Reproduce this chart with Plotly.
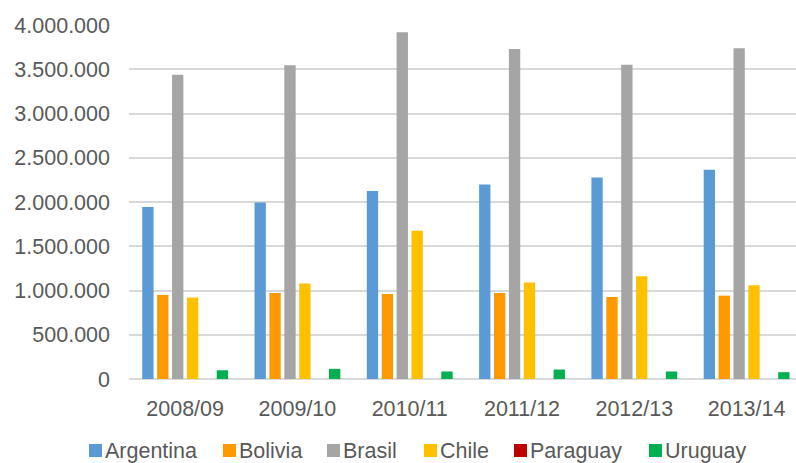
import plotly.graph_objects as go

categories = ["2008/09", "2009/10", "2010/11", "2011/12", "2012/13", "2013/14"]
argentina = [1943000, 1995000, 2123000, 2198000, 2277000, 2364000]
bolivia = [950000, 972000, 961000, 972000, 927000, 942000]
brasil = [3439000, 3545000, 3917000, 3729000, 3552000, 3737000]
chile = [920000, 1078000, 1676000, 1089000, 1160000, 1059000]
paraguay = [0, 0, 0, 0, 0, 0]
uruguay = [99000, 115000, 85000, 107000, 85000, 77000]

y_ticks = [0, 500000, 1000000, 1500000, 2000000, 2500000, 3000000, 3500000, 4000000]
y_tick_labels = ["0", "500.000", "1.000.000", "1.500.000", "2.000.000",
                 "2.500.000", "3.000.000", "3.500.000", "4.000.000"]

series_names = ["Argentina", "Bolivia", "Brasil", "Chile", "Paraguay", "Uruguay"]
series_values = [argentina, bolivia, brasil, chile, paraguay, uruguay]
series_colors = ["#5B9BD5", "#FF9900", "#A5A5A5", "#FFC000", "#C00000", "#00B050"]

# legend layout (pixel positions of legend text starts)
legend_text_px = [105, 239, 343, 440, 530, 665]

W, H = 796, 463
L, R, T, B = 129, 0, 25, 84
pw, ph = W - L - R, H - T - B

def px_to_paper_x(px):
    return (px - L) / pw

def px_to_paper_y(py):
    return (H - B - py) / ph

font = dict(family="Liberation Sans, Arial, sans-serif", size=21.5, color="#595959")

fig = go.Figure()
for name, vals, color in zip(series_names, series_values, series_colors):
    fig.add_trace(go.Bar(name=name, x=categories, y=vals, marker_color=color,
                         marker_line_width=0, showlegend=False))

legend_cy = 450.5
sq = 13
for name, color, tx in zip(series_names, series_colors, legend_text_px):
    fig.add_shape(type="rect", xref="paper", yref="paper",
                  x0=px_to_paper_x(tx - 3 - sq), x1=px_to_paper_x(tx - 3),
                  y0=px_to_paper_y(legend_cy + sq / 2), y1=px_to_paper_y(legend_cy - sq / 2),
                  fillcolor=color, line_width=0)
    fig.add_annotation(text=name, xref="paper", yref="paper",
                       x=px_to_paper_x(tx - 2), y=px_to_paper_y(legend_cy),
                       xanchor="left", yanchor="middle", showarrow=False, font=font)

fig.update_layout(
    width=W, height=H,
    margin=dict(l=L, r=R, t=T, b=B, autoexpand=False),
    paper_bgcolor="white", plot_bgcolor="white",
    barmode="group", bargap=0.204, bargroupgap=0.24,
    font=font,
    showlegend=False,
    xaxis=dict(range=[-0.5, 5.44], showgrid=False, showline=False, ticks="",
               tickfont=font, ticklabelstandoff=14, zeroline=False),
    yaxis=dict(range=[0, 4000000], tickvals=y_ticks, ticktext=y_tick_labels,
               showgrid=True, gridcolor="#D9D9D9", gridwidth=1.5, zeroline=True,
               zerolinecolor="#D9D9D9", zerolinewidth=1.5, showline=False, ticks="",
               tickfont=font, ticklabelstandoff=18),
)

fig.write_html("out.html")
